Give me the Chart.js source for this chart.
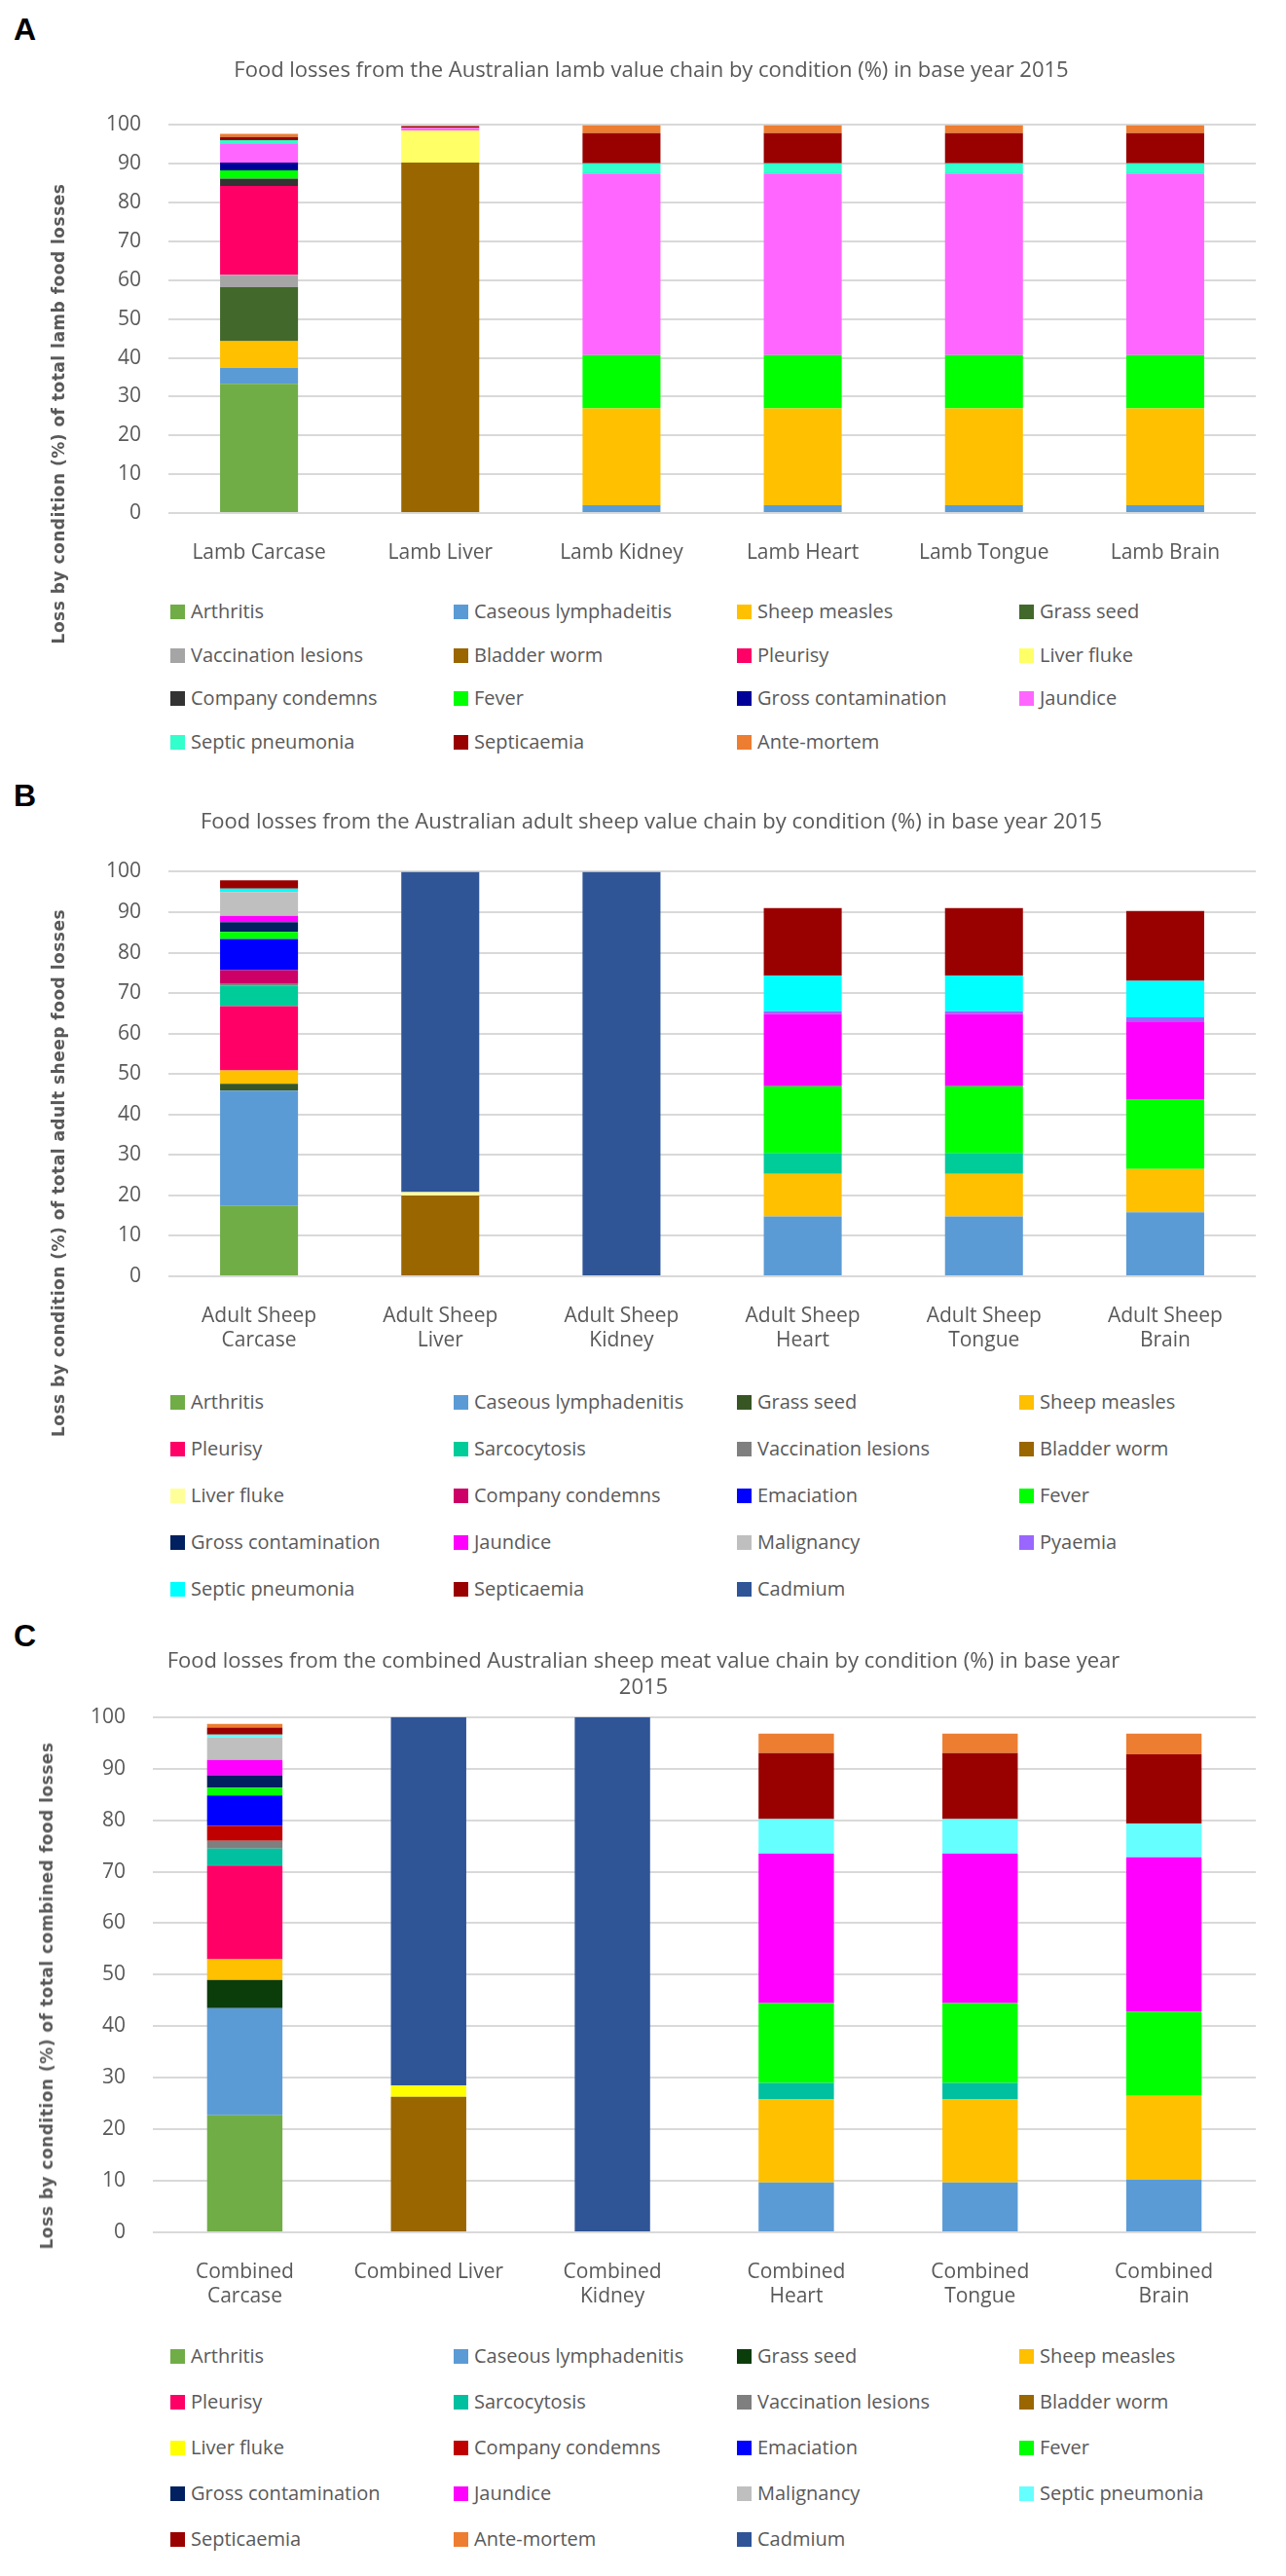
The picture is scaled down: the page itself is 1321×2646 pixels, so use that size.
<!DOCTYPE html>
<html>
<head>
<meta charset="utf-8">
<script src="https://cdn.jsdelivr.net/npm/chart.js@4.4.1/dist/chart.umd.min.js"></script>
<style>
  body { margin: 0; background: #fff; }
  #page { position: relative; width: 1321px; height: 2646px; overflow: hidden; font-family: 'Open Sans', sans-serif; }
  .letter { position: absolute; left: 14px; font: bold 32px 'Liberation Sans', Arial, sans-serif; color: #000; line-height: 36px; }
  .panel { position: absolute; left: 0; width: 1321px; }
  .legend { position: absolute; left: 0; width: 1321px; }
  .item { position: absolute; height: 30px; line-height: 30px; font-size: 20px; color: #595959; white-space: nowrap; }
  .item span { display: inline-block; width: 15px; height: 15px; margin-right: 6px; vertical-align: -1px; }
  .ytitle { position: absolute; white-space: nowrap; font: bold 17px 'DejaVu Sans', sans-serif; color: #595959;
            letter-spacing: 0.5px; transform: translate(-50%, -50%) rotate(-90deg); }
</style>
</head>
<body>
<div id="page">
  <div class="letter" style="top:12px">A</div>
  <div class="panel" style="top:0px;height:587px"><canvas id="chartA"></canvas></div>
  <div class="legend" id="legendA"></div>

  <div class="letter" style="top:799px">B</div>
  <div class="panel" style="top:780px;height:616px"><canvas id="chartB"></canvas></div>
  <div class="legend" id="legendB"></div>

  <div class="letter" style="top:1662px">C</div>
  <div class="panel" style="top:1660px;height:718px"><canvas id="chartC"></canvas></div>
  <div class="legend" id="legendC"></div>

  <div class="ytitle" style="left:60px;top:425px">Loss by condition (%) of total lamb food losses</div>
  <div class="ytitle" style="left:60px;top:1205px">Loss by condition (%) of total adult sheep food losses</div>
  <div class="ytitle" style="left:48px;top:2050px">Loss by condition (%) of total combined food losses</div>
</div>
<script>
// ---- A: lamb ----
var lambLabels = ['Lamb Carcase', 'Lamb Liver', 'Lamb Kidney', 'Lamb Heart', 'Lamb Tongue', 'Lamb Brain'];
var lambConditions = ['Arthritis', 'Caseous lymphadeitis', 'Sheep measles', 'Grass seed', 'Vaccination lesions',
  'Bladder worm', 'Pleurisy', 'Liver fluke', 'Company condemns', 'Fever', 'Gross contamination', 'Jaundice',
  'Septic pneumonia', 'Septicaemia', 'Ante-mortem'];
var lambColors = ['#70ad47', '#5b9bd5', '#ffc000', '#43682b', '#a5a5a5', '#996600', '#ff0066', '#ffff66',
  '#333333', '#00ff00', '#000099', '#ff66ff', '#33ffcc', '#990000', '#ed7d31'];
var lambValues = [
  [33.3, 0, 0, 0, 0, 0],        // Arthritis
  [4.1, 0, 2, 2, 2, 2],         // Caseous lymphadenitis
  [6.9, 0, 25, 25, 25, 25],     // Sheep measles
  [13.9, 0, 0, 0, 0, 0],        // Grass seed
  [3.2, 0, 0, 0, 0, 0],         // Vaccination lesions
  [0, 90.3, 0, 0, 0, 0],        // Bladder worm
  [22.9, 0, 0, 0, 0, 0],        // Pleurisy
  [0, 8.3, 0, 0, 0, 0],         // Liver fluke
  [1.9, 0, 0, 0, 0, 0],         // Company condemns
  [2.1, 0, 13.7, 13.7, 13.7, 13.7], // Fever
  [2.0, 0, 0, 0, 0, 0],         // Gross contamination
  [5.0, 0.7, 46.8, 46.8, 46.8, 46.8], // Jaundice
  [0.8, 0, 2.6, 2.6, 2.6, 2.6], // Septic pneumonia
  [0.8, 0.4, 7.8, 7.8, 7.8, 7.8], // Septicaemia
  [0.8, 0, 2.1, 2.1, 2.1, 2.1]  // Ante-mortem
];

// ---- B: adult sheep ----
var adultLabels = [['Adult Sheep', 'Carcase'], ['Adult Sheep', 'Liver'], ['Adult Sheep', 'Kidney'],
  ['Adult Sheep', 'Heart'], ['Adult Sheep', 'Tongue'], ['Adult Sheep', 'Brain']];
var adultConditions = ['Arthritis', 'Caseous lymphadenitis', 'Grass seed', 'Sheep measles', 'Pleurisy',
  'Sarcocytosis', 'Vaccination lesions', 'Bladder worm', 'Liver fluke', 'Company condemns', 'Emaciation',
  'Fever', 'Gross contamination', 'Jaundice', 'Malignancy', 'Pyaemia', 'Septic pneumonia', 'Septicaemia', 'Cadmium'];
var adultColors = ['#70ad47', '#5b9bd5', '#375623', '#ffc000', '#ff0066', '#00cc99', '#7f7f7f', '#996600',
  '#ffff99', '#cc0066', '#0000ff', '#00ff00', '#002060', '#ff00ff', '#bfbfbf', '#9966ff', '#00ffff', '#990000', '#2f5597'];
var adultValues = [
  [17.5, 0, 0, 0, 0, 0],        // Arthritis
  [28.4, 0, 0, 14.8, 14.8, 15.8], // Caseous lymphadenitis
  [1.7, 0, 0, 0, 0, 0],         // Grass seed
  [3.3, 0, 0, 10.5, 10.5, 10.7], // Sheep measles
  [15.9, 0, 0, 0, 0, 0],        // Pleurisy
  [5.1, 0, 0, 5.2, 5.2, 0],     // Sarcocytosis
  [0.5, 0, 0, 0, 0, 0],         // Vaccination lesions
  [0, 20, 0, 0, 0, 0],          // Bladder worm
  [0, 0.8, 0, 0, 0, 0],         // Liver fluke
  [3.3, 0, 0, 0, 0, 0],         // Company condemns
  [7.7, 0, 0, 0, 0, 0],         // Emaciation
  [1.7, 0, 0, 16.5, 16.5, 17.3], // Fever
  [2.4, 0, 0, 0, 0, 0],         // Gross contamination
  [1.6, 0, 0, 17.8, 17.8, 19.2], // Jaundice
  [5.9, 0, 0, 0, 0, 0],         // Malignancy
  [0, 0, 0, 0.7, 0.7, 1.0],     // Pyaemia
  [0.8, 0, 0, 8.8, 8.8, 9.0],   // Septic pneumonia
  [2.1, 0, 0, 16.7, 16.7, 17.3], // Septicaemia
  [0, 79.2, 100, 0, 0, 0]       // Cadmium
];

// ---- C: combined ----
var combinedLabels = [['Combined', 'Carcase'], 'Combined Liver', ['Combined', 'Kidney'],
  ['Combined', 'Heart'], ['Combined', 'Tongue'], ['Combined', 'Brain']];
var combinedConditions = ['Arthritis', 'Caseous lymphadenitis', 'Grass seed', 'Sheep measles', 'Pleurisy',
  'Sarcocytosis', 'Vaccination lesions', 'Bladder worm', 'Liver fluke', 'Company condemns', 'Emaciation',
  'Fever', 'Gross contamination', 'Jaundice', 'Malignancy', 'Septic pneumonia', 'Septicaemia', 'Ante-mortem', 'Cadmium'];
var combinedColors = ['#70ad47', '#5b9bd5', '#0b3d0b', '#ffc000', '#ff0066', '#00c0a0', '#7f7f7f', '#996600',
  '#ffff00', '#c00000', '#0000ff', '#00ff00', '#002060', '#ff00ff', '#bfbfbf', '#66ffff', '#990000', '#ed7d31', '#2f5597'];
var combinedValues = [
  [22.7, 0, 0, 0, 0, 0],        // Arthritis
  [20.8, 0, 0, 9.7, 9.7, 10.2], // Caseous lymphadenitis
  [5.5, 0, 0, 0, 0, 0],         // Grass seed
  [4.0, 0, 0, 16.1, 16.1, 16.3], // Sheep measles
  [18.2, 0, 0, 0, 0, 0],        // Pleurisy
  [3.3, 0, 0, 3.2, 3.2, 0],     // Sarcocytosis
  [1.5, 0, 0, 0, 0, 0],         // Vaccination lesions
  [0, 26.3, 0, 0, 0, 0],        // Bladder worm
  [0, 2.2, 0, 0, 0, 0],         // Liver fluke
  [2.9, 0, 0, 0, 0, 0],         // Company condemns
  [5.9, 0, 0, 0, 0, 0],         // Emaciation
  [1.5, 0, 0, 15.5, 15.5, 16.3], // Fever
  [2.4, 0, 0, 0, 0, 0],         // Gross contamination
  [3.0, 0, 0, 29.0, 29.0, 30.0], // Jaundice
  [4.3, 0, 0, 0, 0, 0],         // Malignancy
  [0.6, 0, 0, 6.7, 6.7, 6.5],   // Septic pneumonia
  [1.4, 0, 0, 12.8, 12.8, 13.5], // Septicaemia
  [0.7, 0, 0, 3.8, 3.8, 4.0],   // Ante-mortem
  [0, 71.5, 100, 0, 0, 0]       // Cadmium
];

Chart.defaults.font.family = "'Open Sans', sans-serif";
Chart.defaults.color = '#595959';

function makeChart(id, labels, conditions, colors, values, o) {
  var datasets = conditions.map(function (name, i) {
    return {
      label: name,
      data: values[i],
      backgroundColor: colors[i],
      barPercentage: o.barPct,
      categoryPercentage: 1
    };
  });
  return new Chart(document.getElementById(id).getContext('2d'), {
    type: 'bar',
    data: { labels: labels, datasets: datasets },
    options: {
      responsive: true,
      maintainAspectRatio: false,
      animation: false,
      layout: { padding: { left: o.padLeft, right: 31, top: 0, bottom: 0 } },
      plugins: {
        legend: { display: false },
        tooltip: { enabled: false },
        title: {
          display: true,
          text: o.title,
          color: '#595959',
          font: { size: 22, weight: 'normal' },
          lineHeight: 1.6,
          padding: { top: o.titleTop, bottom: o.titleBottom }
        }
      },
      scales: {
        x: {
          stacked: true,
          grid: { display: false },
          border: { display: false },
          ticks: { font: { size: 21 }, color: '#595959', maxRotation: 0, autoSkip: false, padding: 20 },
          afterFit: function (s) { s.height = o.xHeight; }
        },
        y: {
          stacked: true,
          min: 0,
          max: 100,
          ticks: { stepSize: 10, font: { size: 21 }, color: '#595959', padding: 28 },
          grid: { color: '#d9d9d9', lineWidth: 2, drawTicks: false },
          border: { display: false },
          afterFit: function (s) { s.width = o.yWidth; }
        }
      }
    }
  });
}

function buildLegend(chart, id, firstRow, rowGap) {
  var box = document.getElementById(id);
  var cols = [175, 466, 757, 1047];
  chart.data.datasets.forEach(function (ds, i) {
    var el = document.createElement('div');
    el.className = 'item';
    el.style.left = cols[i % 4] + 'px';
    el.style.top = (firstRow + Math.floor(i / 4) * rowGap - 15) + 'px';
    var sw = document.createElement('span');
    sw.style.backgroundColor = ds.backgroundColor;
    el.appendChild(sw);
    el.appendChild(document.createTextNode(ds.label));
    box.appendChild(el);
  });
}

var chartA = makeChart('chartA', lambLabels, lambConditions, lambColors, lambValues, {
  title: 'Food losses from the Australian lamb value chain by condition (%) in base year 2015',
  padLeft: 48, yWidth: 125, xHeight: 60, barPct: 0.43, titleTop: 60, titleBottom: 42
});
var chartB = makeChart('chartB', adultLabels, adultConditions, adultColors, adultValues, {
  title: 'Food losses from the Australian adult sheep value chain by condition (%) in base year 2015',
  padLeft: 48, yWidth: 125, xHeight: 85, barPct: 0.43, titleTop: 52, titleBottom: 37
});
var chartC = makeChart('chartC', combinedLabels, combinedConditions, combinedColors, combinedValues, {
  title: ['Food losses from the combined Australian sheep meat value chain by condition (%) in base year', '2015'],
  padLeft: 32, yWidth: 125, xHeight: 85, barPct: 0.41, titleTop: 34, titleBottom: 17
});

buildLegend(chartA, 'legendA', 628, 44.5);
buildLegend(chartB, 'legendB', 1440, 48);
buildLegend(chartC, 'legendC', 2420, 47);
</script>
</body>
</html>
